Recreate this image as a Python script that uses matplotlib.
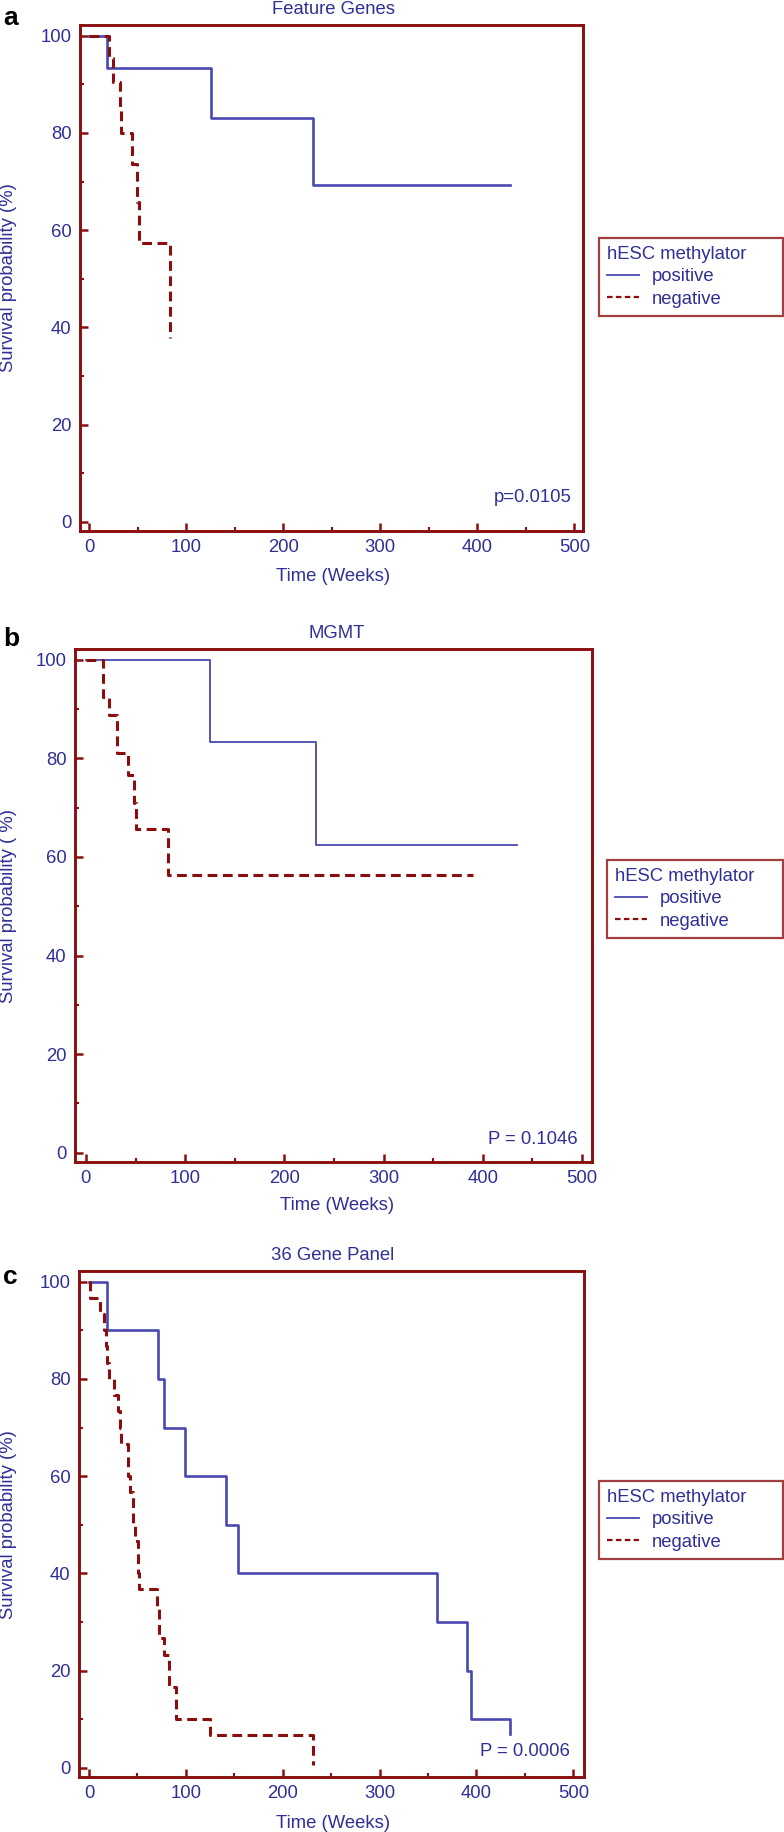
import matplotlib
matplotlib.use("Agg")
import matplotlib.pyplot as plt
from matplotlib.lines import Line2D

plt.rcParams['font.family'] = ['Liberation Sans', 'DejaVu Sans']

# ---------------- data ----------------
titles = ["Feature Genes", "MGMT", "36 Gene Panel"]
panel_letters = ["a", "b", "c"]
p_texts = ["p=0.0105", "P = 0.1046", "P = 0.0006"]
ylabels = ["Survival probability (%)", "Survival probability ( %)", "Survival probability (%)"]
xlabel = "Time (Weeks)"
legend_title = "hESC methylator"
legend_labels = ["positive", "negative"]
x_ticks = [0, 100, 200, 300, 400, 500]
y_ticks = [0, 20, 40, 60, 80, 100]

a_pos_t = [0, 18, 125.5, 231, 433.7]
a_pos_s = [100, 93.3, 83.0, 69.2, 69.2]
a_neg_t = [0, 20, 24, 31.5, 32.5, 44, 49.5, 51, 83]
a_neg_s = [100, 95.5, 90.5, 85.2, 80, 73.7, 65.8, 57.4, 37.8]

b_pos_t = [0, 125, 231.6, 434]
b_pos_s = [100, 83.3, 62.5, 62.5]
b_neg_t = [0, 17, 23, 31.5, 42.5, 48.5, 50, 83, 390]
b_neg_s = [100, 92.5, 88.8, 81, 76.6, 71, 65.6, 56.3, 56.3]

c_pos_t = [0, 18.6, 70.8, 77.7, 99.3, 141.2, 154.3, 359.2, 390.7, 394.5, 434.4, 434.4]
c_pos_s = [100, 90, 80, 70, 60, 50, 40, 30, 20, 10, 10, 7]
c_neg_t = [0, 0.7, 11.7, 15, 17.5, 18.6, 20.3, 26.1, 30.2, 32.3, 33, 39.9, 42.6, 45,
           47.4, 50.2, 51.9, 69.8, 71.8, 77, 83, 89.4, 125.2, 231]
c_neg_s = [100, 96.7, 93.3, 90, 86.7, 83.3, 80, 76.7, 73.3, 70, 66.7, 60, 56.7, 50,
           46.7, 40, 36.7, 33.3, 26.7, 23.3, 16.7, 10, 6.7, 0.5]

# ---------------- style / layout ----------------
W, H = 784, 1832
MAROON = "#8B0E0E"
TEXTBLUE = "#2F2F96"
LINEBLUE = "#4848B0"
FS = 13.3

fig = plt.figure(figsize=(W / 100, H / 100), dpi=100)

def fx(px):
    return px / W

def fy(py):
    return 1 - py / H

panels = [
    dict(box=(80, 583, 25, 531), xlim=(-9.6, 509), title=(333, 9), letter=(3, 18),
         ylab=278, xlab=(333, 576), p=(572, 497), leg=(599, 238, 184), blue_lw=1.9,
         pos=(a_pos_t, a_pos_s), neg=(a_neg_t, a_neg_s)),
    dict(box=(75, 592, 649, 1162), xlim=(-11, 510), title=(337, 633), letter=(3, 639),
         ylab=906, xlab=(337, 1205), p=(578, 1140), leg=(607, 860, 176), blue_lw=1.3,
         pos=(b_pos_t, b_pos_s), neg=(b_neg_t, b_neg_s)),
    dict(box=(79, 584, 1271, 1777), xlim=(-10.3, 511), title=(333, 1255), letter=(3, 1277),
         ylab=1525, xlab=(333, 1824), p=(570, 1752), leg=(599, 1481, 184), blue_lw=1.9,
         pos=(c_pos_t, c_pos_s), neg=(c_neg_t, c_neg_s)),
]

for i, P in enumerate(panels):
    L, R, T, B = P["box"]
    ax = fig.add_axes([fx(L), fy(B), (R - L) / W, (B - T) / H])
    ax.set_xlim(*P["xlim"])
    ax.set_ylim(-1.9, 102.2)
    for s in ax.spines.values():
        s.set_color(MAROON)
        s.set_linewidth(2.1)
    ax.set_xticks(x_ticks)
    ax.set_yticks(y_ticks)
    ax.set_xticks([50, 150, 250, 350, 450], minor=True)
    ax.set_yticks([10, 30, 50, 70, 90], minor=True)
    ax.tick_params(which="major", direction="in", length=6, width=1.8, color=MAROON,
                   labelcolor=TEXTBLUE, labelsize=FS, pad=6)
    ax.tick_params(which="minor", direction="in", length=3, width=1.5, color=MAROON)

    pt, ps = P["pos"]
    nt, ns = P["neg"]
    ax.step(pt, ps, where="post", color=LINEBLUE, lw=P["blue_lw"], zorder=3)
    ax.step(nt, ns, where="post", color=MAROON, lw=2.2, linestyle=(0, (3.2, 1.8)), zorder=4)

    fig.text(fx(P["title"][0]), fy(P["title"][1]), titles[i], ha="center", va="center",
             color=TEXTBLUE, fontsize=FS)
    fig.text(fx(P["letter"][0]), fy(P["letter"][1]), panel_letters[i], ha="left", va="center",
             color="black", fontsize=19, fontweight="bold")
    fig.text(fx(9), fy(P["ylab"]), ylabels[i], rotation=90, ha="center", va="center",
             color=TEXTBLUE, fontsize=FS)
    fig.text(fx(P["xlab"][0]), fy(P["xlab"][1]), xlabel, ha="center", va="center",
             color=TEXTBLUE, fontsize=FS)
    fig.text(fx(P["p"][0]), fy(P["p"][1]), p_texts[i], ha="right", va="center",
             color=TEXTBLUE, fontsize=FS)

    lx, ly, lw_ = P["leg"]
    handles = [Line2D([], [], color=LINEBLUE, lw=1.3),
               Line2D([], [], color=MAROON, lw=1.6, linestyle=(0, (2.5, 1.5)))]
    leg = ax.legend(handles, legend_labels, title=legend_title,
                    bbox_to_anchor=(fx(lx), fy(ly) - 80 / H, lw_ / W, 80 / H),
                    bbox_transform=fig.transFigure, loc="upper left", mode="expand",
                    fontsize=FS, title_fontsize=FS, frameon=True, fancybox=False,
                    borderpad=0.45, labelspacing=0.28, handlelength=1.7, handletextpad=0.7,
                    borderaxespad=0.0, alignment="left")
    leg.get_frame().set_edgecolor(MAROON)
    leg.get_frame().set_linewidth(1.6)
    leg.get_title().set_color(TEXTBLUE)
    for t in leg.get_texts():
        t.set_color(TEXTBLUE)

fig.savefig("out.png", dpi=100)
